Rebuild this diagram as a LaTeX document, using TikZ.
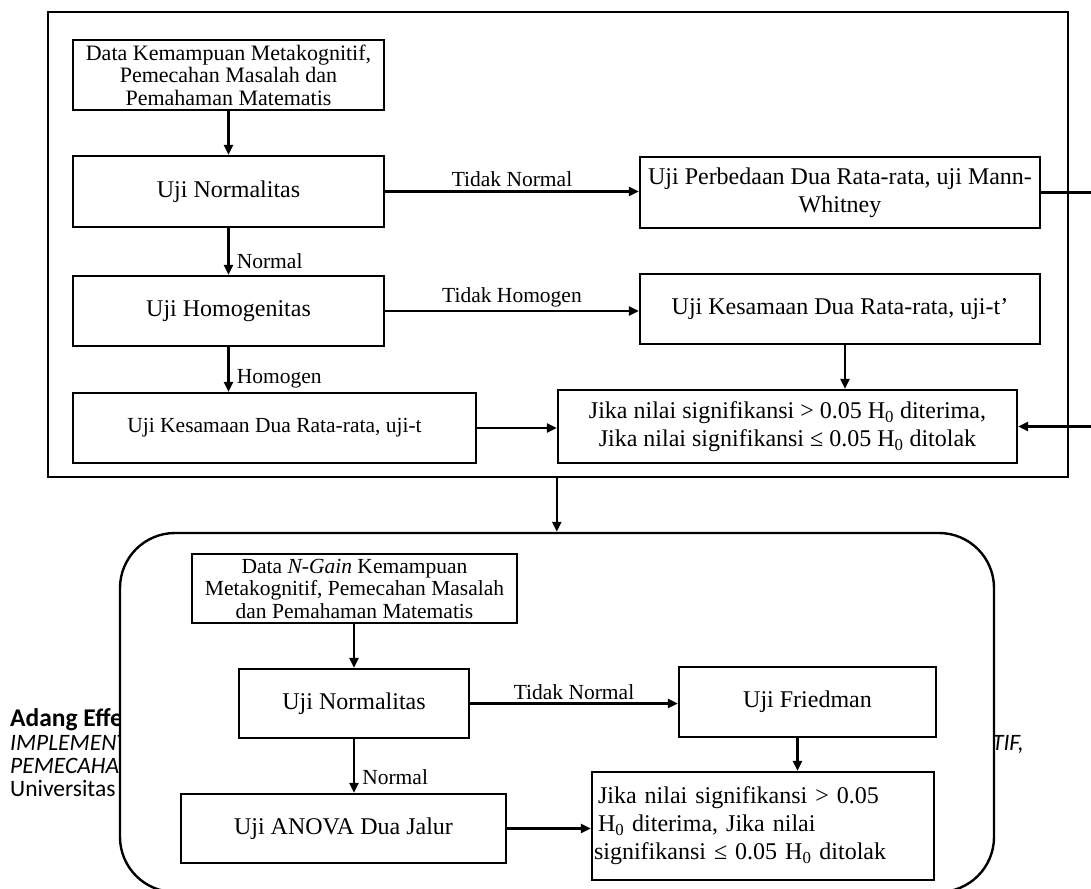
\documentclass[tikz,border=0pt]{standalone}
\usepackage{fontspec}
\setmainfont{Liberation Serif}
\newfontfamily\footerfont{Carlito}
\usetikzlibrary{arrows.meta}
\newcommand{\bigtext}{\fontsize{24}{28}\selectfont}
\newcommand{\smalltext}{\fontsize{21.5}{22.5}\selectfont}
\newcommand{\datatext}{\fontsize{22}{22.5}\selectfont}

\begin{document}
\begin{tikzpicture}
[boxDecorate/.style={draw,line width=2.4pt,inner sep=2pt,align=center,font=\bigtext},
  smallBox/.style={boxDecorate,font=\smalltext},
  arrowDecorate/.style={-{Triangle[length=10pt,width=9pt]},line width=2.6pt},
  labelDecorate/.style={font=\smalltext,inner sep=2pt},
  footerDecorate/.style={anchor=base west,inner sep=0pt,font=\footerfont\fontsize{23.5}{26}\selectfont},
  x=1pt,y=-1pt]
\useasboundingbox (0,0) rectangle (1091,888);
%% page footer, mostly hidden by the second frame
\node (footName) at (10,726) [footerDecorate] {\fontsize{25.5}{26}\selectfont\bfseries Adang Effendi};
\node (footTitle) at (10,750) [footerDecorate] {\itshape IMPLEMENTASI};
\node (footTitleTwo) at (10,773) [footerDecorate] {\itshape PEMECAHAN};
\node (footUniv) at (10,796) [footerDecorate] {Universitas};
\node (footTitleEnd) at (1024,750) [footerDecorate,anchor=base east] {\itshape METAKOGNITIF,};
%% frames
\node (topFrame) at (558,244.5) [draw,line width=2.4pt,minimum width=1020pt,minimum height=465pt] {};
\node (bottomFrame) at (557,712.5) [draw,fill=white,line width=2.4pt,rounded corners=55pt,
  minimum width=874pt,minimum height=359pt] {};
%% nodes of the first stage
\node (dataAwal) at (228.5,75) [boxDecorate,font=\datatext,minimum width=311pt,minimum height=70pt]
  {Data Kemampuan Metakognitif,\\ Pemecahan Masalah dan\\ Pemahaman Matematis};
\node (normalitas) at (228.5,191.5) [boxDecorate,minimum width=311pt,minimum height=71pt] {Uji Normalitas};
\node (homogenitas) at (228.5,311) [boxDecorate,minimum width=311pt,minimum height=70pt] {Uji Homogenitas};
\node (ujiT) at (274.5,428) [smallBox,minimum width=403pt,minimum height=70pt] {Uji Kesamaan Dua Rata-rata, uji-t};
\node (mannWhitney) at (840,192.5) [boxDecorate,minimum width=400pt,minimum height=71pt]
  {Uji Perbedaan Dua Rata-rata, uji Mann-\\Whitney};
\node (ujiTaksen) at (840,309) [boxDecorate,minimum width=400pt,minimum height=70pt] {Uji Kesamaan Dua Rata-rata, uji-t’};
\node (keputusan) at (787.5,426.5) [boxDecorate,minimum width=459pt,minimum height=73pt]
  {Jika nilai signifikansi > 0.05 H\textsubscript{0} diterima,\\ Jika nilai signifikansi ≤ 0.05 H\textsubscript{0} ditolak};
%% nodes of the second stage
\node (dataGain) at (354.5,588.5) [smallBox,minimum width=325pt,minimum height=69pt]
  {Data \textit{N-Gain} Kemampuan\\ Metakognitif, Pemecahan Masalah\\ dan Pemahaman Matematis};
\node (normalitasGain) at (354,703.5) [boxDecorate,minimum width=230pt,minimum height=69pt] {Uji Normalitas};
\node (anova) at (343.5,828.5) [boxDecorate,minimum width=325pt,minimum height=69pt] {Uji ANOVA Dua Jalur};
\node (friedman) at (807.5,702) [boxDecorate,minimum width=257pt,minimum height=70pt] {Uji Friedman};
\node (keputusanGain) at (763,826) [boxDecorate,align=left,text width=338pt,minimum height=108pt]
  {\hspace*{4pt}Jika nilai signifikansi > 0.05\\ \hspace*{4pt}H\textsubscript{0} diterima, Jika nilai\\ signifikansi ≤ 0.05 H\textsubscript{0} ditolak};
%% edges of the first stage
\draw[arrowDecorate] (dataAwal) -- (normalitas);
\draw[arrowDecorate] (normalitas) -- (homogenitas) node[labelDecorate,pos=0.7,right=5pt] {Normal};
\draw[arrowDecorate] (homogenitas.south) -- (homogenitas.south |- ujiT.north) node[labelDecorate,pos=0.7,right=5pt] {Homogen};
\draw[arrowDecorate] (normalitas.east) -- (normalitas.east -| mannWhitney.west) node[labelDecorate,midway,above=1pt] {Tidak Normal};
\draw[arrowDecorate] (homogenitas.east) -- (homogenitas.east -| ujiTaksen.west) node[labelDecorate,midway,above=1pt] {Tidak Homogen};
\draw[arrowDecorate] (ujiT.east) -- (ujiT.east -| keputusan.west);
\draw[arrowDecorate] ([xshift=5pt]ujiTaksen.south) -- ([xshift=5pt]ujiTaksen.south |- keputusan.north);
\coordinate (loopRight) at (1100,192.5);
\draw[arrowDecorate] (mannWhitney.east) -- (mannWhitney.east -| loopRight) -- (loopRight |- keputusan.east) -- (keputusan.east);
\draw[arrowDecorate] (topFrame.south -| keputusan.west) -- (bottomFrame.north -| keputusan.west);
%% edges of the second stage
\draw[arrowDecorate] (dataGain.south -| normalitasGain) -- (normalitasGain.north);
\draw[arrowDecorate] (normalitasGain) -- (normalitasGain |- anova.north) node[labelDecorate,pos=0.7,right=5pt] {Normal};
\draw[arrowDecorate] (normalitasGain.east) -- (normalitasGain.east -| friedman.west) node[labelDecorate,midway,above=1pt] {Tidak Normal};
\draw[arrowDecorate] ([xshift=-10pt]friedman.south) -- ([xshift=-10pt]friedman.south |- keputusanGain.north);
\draw[arrowDecorate] (anova.east) -- (anova.east -| keputusanGain.west);
\end{tikzpicture}
\end{document}
